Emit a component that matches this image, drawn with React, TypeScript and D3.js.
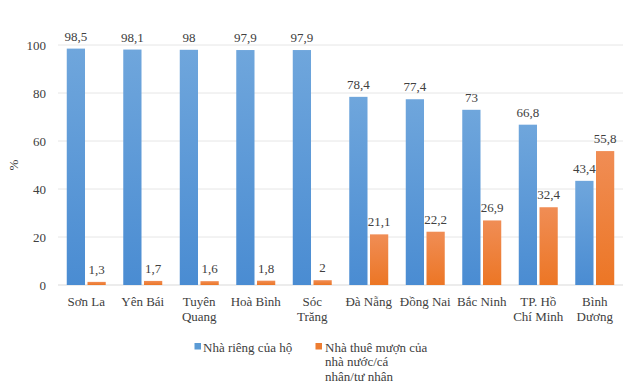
import React from "react";
import * as d3 from "d3";

const categories = ["Sơn La", "Yên Bái", "Tuyên Quang", "Hoà Bình", "Sóc Trăng", "Đà Nẵng", "Đồng Nai", "Bắc Ninh", "TP. Hồ Chí Minh", "Bình Dương"];
const categoryLines = [["Sơn La"], ["Yên Bái"], ["Tuyên", "Quang"], ["Hoà Bình"], ["Sóc", "Trăng"], ["Đà Nẵng"], ["Đồng Nai"], ["Bắc Ninh"], ["TP. Hồ", "Chí Minh"], ["Bình", "Dương"]];
const ownHouse = [98.5, 98.1, 98, 97.9, 97.9, 78.4, 77.4, 73, 66.8, 43.4];
const rented = [1.3, 1.7, 1.6, 1.8, 2, 21.1, 22.2, 26.9, 32.4, 55.8];
const yTicks = [0, 20, 40, 60, 80, 100];
const seriesNames = ["Nhà riêng của hộ", "Nhà thuê mượn của nhà nước/cá nhân/tư nhân"];
const legendLines2 = ["Nhà thuê mượn của", "nhà nước/cá", "nhân/tư nhân"];

const fmt = (v: number) => String(v).replace(".", ",");

export default function App() {
  const W = 640, H = 392;
  const left = 58, right = 623, top = 45, bottom = 285;
  const x = d3.scaleBand<string>().domain(categories).range([left, right]).paddingInner(0.31).paddingOuter(0.155);
  const y = d3.scaleLinear().domain([0, 100]).range([bottom, top]);
  const inner = d3.scaleBand<number>().domain([0, 1]).range([0, x.bandwidth()]).paddingInner(0.12);
  const font = "\"Liberation Serif\", \"Times New Roman\", \"DejaVu Serif\", serif";
  const txt = "#404040";
  return (
    <svg width={W} height={H} style={{ position: "absolute", left: 0, top: 0, background: "#fff", fontFamily: font }}>
      <defs>
        <linearGradient id="gb" x1="0" y1="0" x2="0" y2="1">
          <stop offset="0" stopColor="#6fa6dc" />
          <stop offset="1" stopColor="#4a8cd2" />
        </linearGradient>
        <linearGradient id="go" x1="0" y1="0" x2="0" y2="1">
          <stop offset="0" stopColor="#f08d55" />
          <stop offset="1" stopColor="#ec7625" />
        </linearGradient>
      </defs>
      {yTicks.map((t) => (
        <g key={t}>
          <line x1={left} x2={right} y1={y(t)} y2={y(t)} stroke={t === 0 ? "#d9d9d9" : "#e6e6e6"} strokeWidth={1} />
          <text x={46} y={y(t) + 4.5} textAnchor="end" fontSize={13} fill={txt}>{t}</text>
        </g>
      ))}
      <text transform={`translate(18,${(top + bottom) / 2}) rotate(-90)`} textAnchor="middle" fontSize={13} fill={txt}>%</text>
      {categories.map((c, i) => {
        const x0 = x(c)!;
        const xb = x0 + inner(0)!;
        const xo = x0 + inner(1)!;
        const bw = inner.bandwidth();
        return (
          <g key={c}>
            <rect x={xb} y={y(ownHouse[i])} width={bw} height={y(0) - y(ownHouse[i])} fill="url(#gb)" />
            <rect x={xo} y={y(rented[i])} width={bw} height={y(0) - y(rented[i])} fill="url(#go)" />
            <text x={xb + bw / 2} y={y(ownHouse[i]) - 8} textAnchor="middle" fontSize={13} fill={txt}>{fmt(ownHouse[i])}</text>
            <text x={xo + bw / 2} y={y(rented[i]) - 8} textAnchor="middle" fontSize={13} fill={txt}>{fmt(rented[i])}</text>
            {categoryLines[i].map((l, j) => (
              <text key={j} x={x0 + x.bandwidth() / 2} y={305.5 + j * 15} textAnchor="middle" fontSize={13} fill={txt}>{l}</text>
            ))}
          </g>
        );
      })}
      <rect x={194.5} y={343} width={6.5} height={6.5} fill="#5b9bd5" />
      <text x={203} y={351.5} fontSize={13} fill={txt}>{seriesNames[0]}</text>
      <rect x={315.5} y={343} width={6.5} height={6.5} fill="#ed7d31" />
      {legendLines2.map((l, j) => (
        <text key={j} x={325} y={351.5 + j * 14.8} fontSize={13} fill={txt}>{l}</text>
      ))}
    </svg>
  );
}
